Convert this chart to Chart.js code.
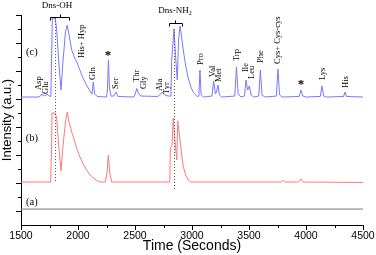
<!DOCTYPE html>
<html>
<head>
<meta charset="utf-8">
<script src="https://cdn.jsdelivr.net/npm/chart.js@4.4.1/dist/chart.umd.min.js"></script>
<style>
  html, body { margin: 0; padding: 0; background: #fff; }
  #wrap { width: 376px; height: 255px; }
</style>
</head>
<body>
<div id="wrap"><canvas id="chart"></canvas></div>
<script>
// trace (c): sample with derivatisation (time in s, intensity in a.u.)
const timeC = [1500, 1650, 1670, 1684, 1700, 1715, 1728, 1745, 1762, 1768, 1775, 1800, 1812, 1830, 1851, 1868, 1890, 1906, 1920, 1945,
  1970, 1990, 2010, 2040, 2070, 2100, 2122, 2134, 2146, 2170, 2250, 2258, 2267, 2276, 2290, 2315, 2334, 2350, 2490, 2505,
  2515, 2530, 2550, 2700, 2725, 2740, 2760, 2790, 2815, 2822, 2842, 2858, 2871, 2882, 2895, 2905, 2923, 2945, 2965, 2990,
  3010, 3044, 3060, 3070, 3080, 3100, 3175, 3190, 3205, 3215, 3228, 3240, 3260, 3375, 3390, 3405, 3430, 3460, 3474, 3488,
  3503, 3518, 3540, 3585, 3600, 3614, 3640, 3740, 3754, 3768, 3790, 3940, 3956, 3972, 4000, 4125, 4140, 4155, 4180, 4330,
  4342, 4356, 4500];
const valC = [8.14, 8.14, 8.21, 8.36, 8.21, 8.25, 8.36, 8.21, 8.18, 10.79, 13.79, 13.75, 13.07, 10.79, 8.64, 10.64, 12.79, 13.29, 12.64, 11.5,
  10.93, 10.64, 10.21, 9.57, 9.07, 8.64, 8.36, 9.21, 8.36, 8.18, 8.14, 8.64, 10.79, 8.79, 8.21, 8.21, 8.5, 8.18, 8.14, 8.43,
  8.75, 8.43, 8.21, 8.18, 8.36, 8.5, 8.29, 8.21, 8.21, 10.79, 13.0, 10.79, 9.36, 12.21, 13.21, 12.64, 11.5, 10.36, 9.57, 8.86,
  8.5, 8.18, 8.21, 10.07, 8.29, 8.14, 8.21, 9.29, 8.36, 8.5, 9.0, 8.29, 8.14, 8.21, 10.29, 8.36, 8.14, 8.21, 9.36, 8.64,
  8.93, 8.29, 8.14, 8.21, 10.07, 8.29, 8.14, 8.21, 10.14, 8.29, 8.14, 8.18, 8.64, 8.21, 8.14, 8.18, 8.93, 8.21, 8.14, 8.18,
  8.5, 8.18, 8.14];

// trace (b)
const timeB = [1500, 1760, 1768, 1772, 1800, 1813, 1830, 1851, 1865, 1890, 1906, 1920, 1945, 1960, 1990, 2017, 2045, 2076, 2105, 2134,
  2165, 2193, 2240, 2255, 2266, 2278, 2295, 2805, 2810, 2825, 2836, 2850, 2866, 2875, 2890, 2910, 2924, 2945, 2968, 2990,
  3780, 3800, 3820, 3935, 3956, 3975, 4500];
const valB = [2.07, 2.07, 4.36, 7.0, 7.0, 6.64, 4.71, 2.86, 4.36, 6.36, 7.07, 6.36, 5.64, 5.29, 4.43, 3.86, 3.36, 2.93, 2.57, 2.36,
  2.18, 2.07, 2.07, 2.79, 4.0, 2.79, 2.07, 2.07, 4.5, 4.71, 6.64, 5.07, 3.64, 6.43, 5.43, 4.0, 3.14, 2.57, 2.21, 2.07,
  2.07, 2.18, 2.07, 2.07, 2.29, 2.07, 2.04];

// trace (a): blank
const timeA = [1500, 4500];
const valA = [0.14, 0.14];

// axis
const xTicks = [1500, 2000, 2500, 3000, 3500, 4000, 4500];

// peak names (rotated) and where their foot sits
const peakNames = ['Asp', 'Glu', 'His+ Hyp', 'Gln', 'Ser', 'Thr', 'Gly', 'Ala', 'Tyr', 'Pro', 'Val', 'Met', 'Trp', 'Ile', 'Leu',
  'Phe', 'Cys+ Cys-cys', 'Lys', 'His'];
const peakNameTime = [1660, 1715, 2030, 2132, 2329, 2513, 2579, 2719, 2781, 3076, 3184, 3237, 3392, 3474, 3526,
  3605, 3748, 4143, 4348];
const peakNameVal = [8.64, 8.36, 10.93, 9.36, 8.71, 9.21, 8.71, 8.57, 8.36, 10.43, 9.57, 9.21, 10.71, 9.93, 9.43,
  10.57, 10.5, 9.36, 8.79];

// unknown peaks (*)
const starTime = [2263, 3956];
const starVal = [11.29, 9.21];

// trace letters
const traceNames = ['(c)', '(b)', '(a)'];
const traceNameVal = [11.36, 5.21, 0.64];

function toPoints(xs, ys) {
  return xs.map((x, i) => ({ x: x, y: ys[i] }));
}

// extra drawing: ticks, dotted lines, labels
const extras = {
  id: 'extras',
  afterDraw(chart) {
    const ctx = chart.ctx;
    const x = chart.scales.x;
    const y = chart.scales.y;
    const area = chart.chartArea;
    ctx.save();

    // tick marks, outside
    ctx.strokeStyle = '#000';
    ctx.lineWidth = 1;
    ctx.beginPath();
    for (let t = 1500; t <= 4500; t += 250) {
      const px = Math.round(x.getPixelForValue(t)) + 0.5;
      const len = t % 500 === 0 ? 5 : 3;
      ctx.moveTo(px, area.bottom);
      ctx.lineTo(px, area.bottom + len);
    }
    for (let v = 0; v <= 14; v++) {
      const py = Math.round(y.getPixelForValue(v)) + 0.5;
      const len = v % 2 === 0 ? 5 : 3;
      ctx.moveTo(area.left, py);
      ctx.lineTo(area.left - len, py);
    }
    ctx.stroke();

    // dotted markers
    ctx.strokeStyle = '#555';
    ctx.setLineDash([1, 2]);
    ctx.beginPath();
    let px = Math.round(x.getPixelForValue(1800)) + 0.5;
    ctx.moveTo(px, y.getPixelForValue(13.79));
    ctx.lineTo(px, y.getPixelForValue(2.07));
    px = Math.round(x.getPixelForValue(2840)) + 0.5;
    ctx.moveTo(px, y.getPixelForValue(13.0));
    ctx.lineTo(px, y.getPixelForValue(1.43));
    ctx.stroke();
    ctx.setLineDash([]);

    // brackets
    ctx.strokeStyle = '#000';
    ctx.beginPath();
    const brackets = [[1754, 1921, 1842, 13.86], [2798, 2912, 2855, 13.43]];
    brackets.forEach(b => {
      const x1 = Math.round(x.getPixelForValue(b[0])) + 0.5;
      const x2 = Math.round(x.getPixelForValue(b[1])) + 0.5;
      const xm = Math.round(x.getPixelForValue(b[2])) + 0.5;
      const yb = Math.round(y.getPixelForValue(b[3])) + 0.5;
      ctx.moveTo(x1, yb + 3);
      ctx.lineTo(x1, yb);
      ctx.lineTo(x2, yb);
      ctx.lineTo(x2, yb + 3);
      ctx.moveTo(xm, yb);
      ctx.lineTo(xm, yb - 3);
    });
    ctx.stroke();

    ctx.fillStyle = '#000';
    ctx.font = '9px "Liberation Serif"';
    ctx.textAlign = 'center';
    ctx.textBaseline = 'middle';
    ctx.fillText('Dns-OH', x.getPixelForValue(1816), y.getPixelForValue(14.64));
    // Dns-NH2 with a small 2
    const nx = x.getPixelForValue(2855);
    const ny = y.getPixelForValue(14.29);
    const w1 = ctx.measureText('Dns-NH').width;
    ctx.textAlign = 'left';
    ctx.fillText('Dns-NH', nx - (w1 + 4) / 2, ny);
    ctx.font = '6px "Liberation Serif"';
    ctx.fillText('2', nx - (w1 + 4) / 2 + w1, ny + 2);

    // rotated peak names
    ctx.font = '8.5px "Liberation Serif"';
    ctx.textAlign = 'left';
    ctx.textBaseline = 'middle';
    peakNames.forEach((name, i) => {
      ctx.save();
      ctx.translate(x.getPixelForValue(peakNameTime[i]), y.getPixelForValue(peakNameVal[i]));
      ctx.rotate(-Math.PI / 2);
      ctx.fillText(name, 0, 0);
      ctx.restore();
    });

    ctx.font = 'bold 13px "Liberation Serif"';
    ctx.textAlign = 'center';
    ctx.textBaseline = 'top';
    starTime.forEach((t, i) => {
      ctx.fillText('*', x.getPixelForValue(t), y.getPixelForValue(starVal[i]) - 4);
    });

    ctx.font = '10.5px "Liberation Serif"';
    ctx.textBaseline = 'middle';
    traceNames.forEach((name, i) => {
      ctx.fillText(name, x.getPixelForValue(1596), y.getPixelForValue(traceNameVal[i]));
    });

    ctx.restore();
  }
};

new Chart(document.getElementById('chart'), {
  type: 'line',
  data: {
    datasets: [
      {
        label: '(c)',
        data: toPoints(timeC, valC),
        borderColor: 'rgb(120, 120, 255)',
        borderWidth: 1,
        pointRadius: 0,
        tension: 0
      },
      {
        label: '(b)',
        data: toPoints(timeB, valB),
        borderColor: 'rgb(255, 120, 120)',
        borderWidth: 1,
        pointRadius: 0,
        tension: 0
      },
      {
        label: '(a)',
        data: toPoints(timeA, valA),
        borderColor: 'rgb(120, 120, 120)',
        borderWidth: 1,
        pointRadius: 0,
        tension: 0
      }
    ]
  },
  options: {
    responsive: true,
    maintainAspectRatio: false,
    animation: false,
    layout: { padding: { top: 15, right: 0, left: 0, bottom: 0 } },
    plugins: {
      legend: { display: false },
      tooltip: { enabled: false }
    },
    scales: {
      x: {
        type: 'linear',
        min: 1500,
        max: 4500,
        afterBuildTicks: scale => { scale.ticks = xTicks.map(v => ({ value: v })); },
        afterFit: scale => {
          scale.height = 30;
          scale.paddingRight = 13;
          scale.paddingLeft = 0;
        },
        grid: { display: false, drawTicks: false },
        border: { display: true, color: '#000', width: 1 },
        ticks: {
          color: '#000',
          padding: 5,
          maxRotation: 0,
          callback: v => String(v),
          font: { family: 'Arial, "Liberation Sans"', size: 10.5 }
        },
        title: {
          display: true,
          text: 'Time (Seconds)',
          color: '#000',
          padding: { top: 0, bottom: 0 },
          font: { family: 'Arial, "Liberation Sans"', size: 14 }
        }
      },
      y: {
        min: -1,
        max: 14,
        afterFit: scale => { scale.width = 21; },
        grid: { display: false, drawTicks: false },
        border: { display: true, color: '#000', width: 1 },
        ticks: { display: false, stepSize: 1 },
        title: {
          display: true,
          text: 'Intensity (a.u.)',
          color: '#000',
          padding: { top: 0, bottom: 0 },
          font: { family: 'Arial, "Liberation Sans"', size: 13 }
        }
      }
    }
  },
  plugins: [extras]
});
</script>
</body>
</html>
